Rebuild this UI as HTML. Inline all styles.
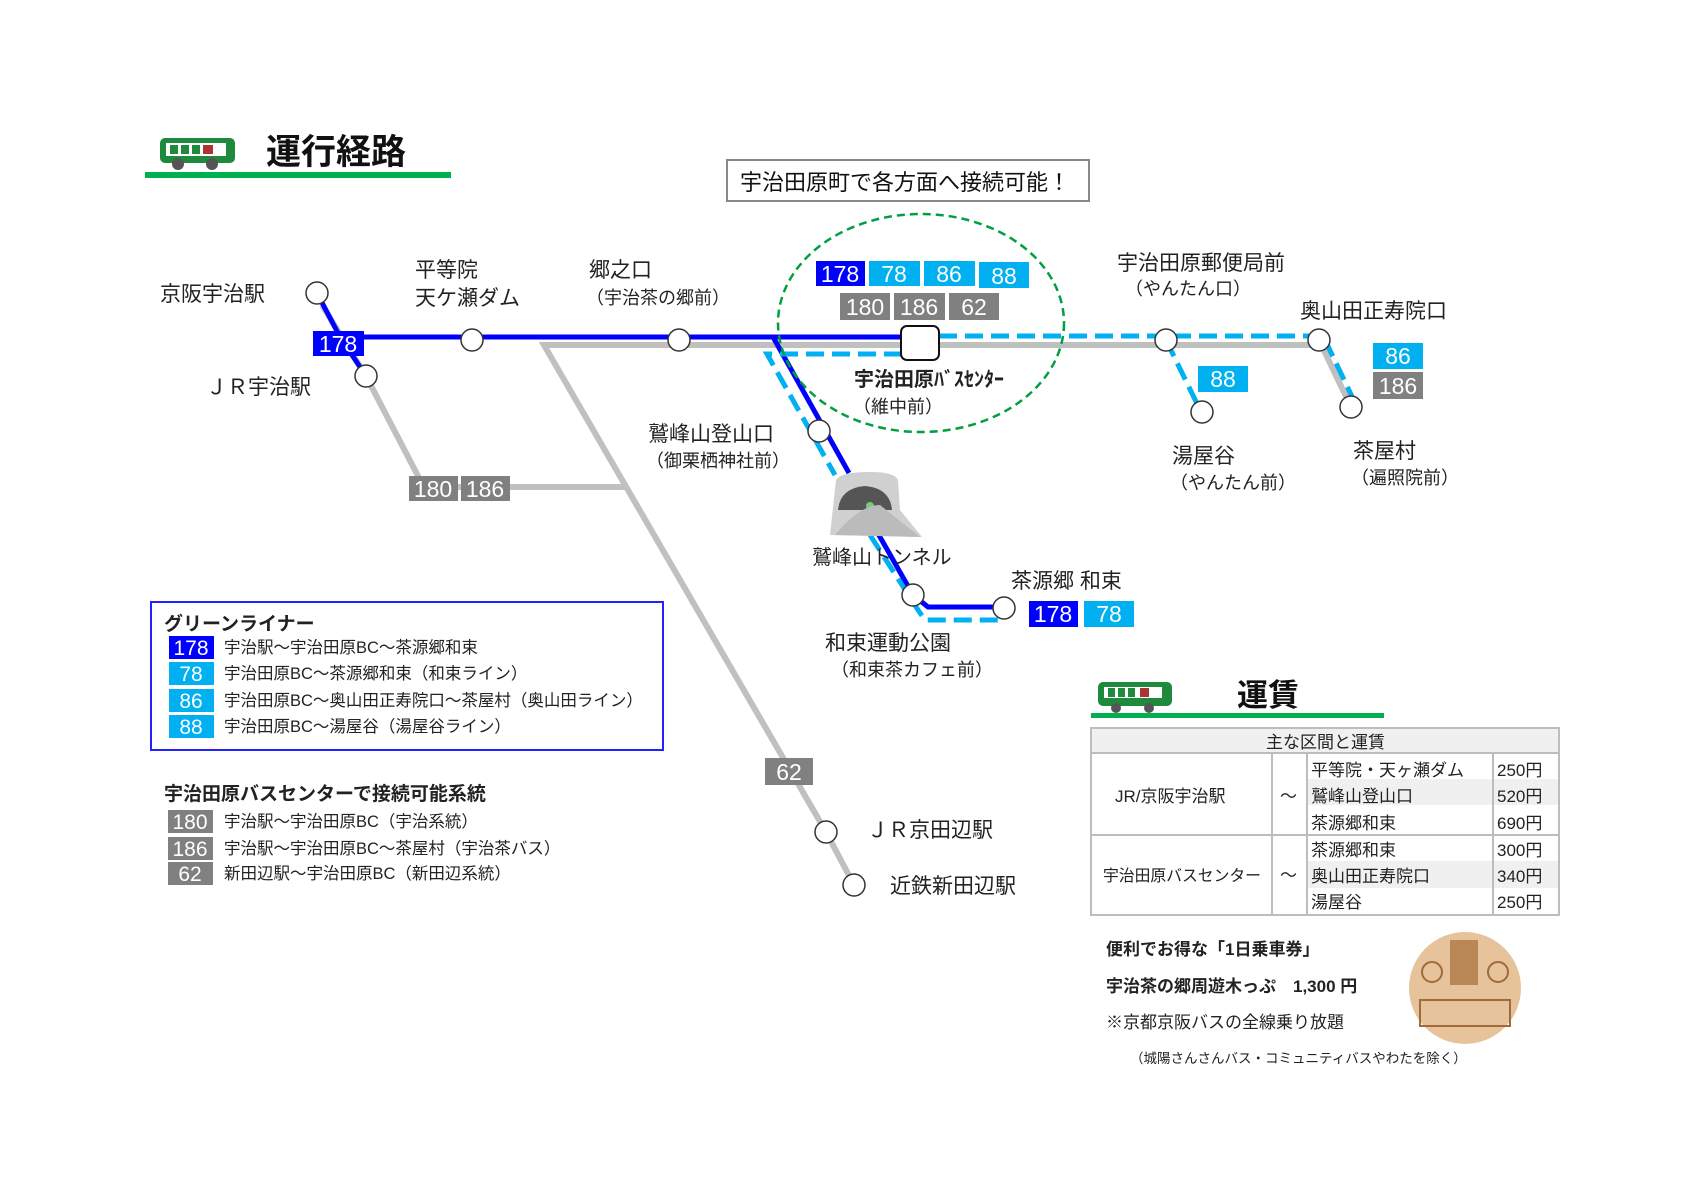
<!DOCTYPE html>
<html><head><meta charset="utf-8"><style>
html,body{margin:0;padding:0;background:#fff;}
svg{display:block;font-family:"Liberation Sans","Noto Sans CJK JP",sans-serif;}
</style></head><body>
<svg width="1683" height="1190" viewBox="0 0 1683 1190" xmlns="http://www.w3.org/2000/svg">
<g>
<rect x="160" y="138" width="75" height="25" rx="5" fill="#1f8a3c"/>
<rect x="166" y="143" width="60" height="13" fill="#fff"/>
<rect x="170" y="145" width="8" height="9" fill="#1f8a3c"/><rect x="181" y="145" width="8" height="9" fill="#1f8a3c"/><rect x="192" y="145" width="8" height="9" fill="#1f8a3c"/><rect x="203" y="145" width="10" height="9" fill="#a33"/>
<circle cx="178" cy="164" r="6" fill="#555"/><circle cx="212" cy="164" r="6" fill="#555"/>
<rect x="145" y="172" width="306" height="6" fill="#00b050"/>
<text x="266" y="164" font-size="35" font-weight="bold" fill="#111">運行経路</text>
</g>
<rect x="727" y="160" width="362" height="41" fill="#fff" stroke="#888" stroke-width="2"/>
<text x="740" y="190" font-size="22" fill="#111">宇治田原町で各方面へ接続可能！</text>

<g stroke="#c0c0c0" stroke-width="6" fill="none">
<polyline points="322,305 366,376 418,476 418,487"/>
<line x1="410" y1="487" x2="626" y2="487"/>
<polyline points="1320,345 544,345 826,832 854,885"/>
<line x1="1319" y1="340" x2="1351" y2="407"/>
</g>
<g stroke="#0000ff" stroke-width="5" fill="none">
<polyline points="317,293 340,337 366,376"/>
<line x1="340" y1="337" x2="902" y2="337"/>
<polyline points="773,337 849,473"/>
<polyline points="876,530 913,595 928,607 1004,607"/>
</g>
<g stroke="#00b0f0" stroke-width="5" fill="none" stroke-dasharray="18,8">
<polyline points="902,354 767,354 835,475"/>
<polyline points="870,535 918,610 925,620 1004,620"/>
<line x1="939" y1="336" x2="1319" y2="336"/>
<line x1="1166" y1="340" x2="1205" y2="420"/>
<line x1="1325" y1="340" x2="1357" y2="407"/>
</g>
<ellipse cx="921" cy="323" rx="143" ry="109" fill="none" stroke="#00a040" stroke-width="2.5" stroke-dasharray="8,5"/>

<g>
<path d="M830,535 L836,480 Q840,472 870,472 Q895,472 898,480 L900,510 L922,537 Z" fill="#d0d0d0"/>
<path d="M838,510 Q840,488 865,486 Q890,488 892,510 Z" fill="#555"/>
<circle cx="870" cy="506" r="4" fill="#7c7"/>
<path d="M835,535 Q860,505 880,505 L920,537 Z" fill="#bbb"/>
</g>
<text x="812" y="564" font-size="20" fill="#222">鷲峰山トンネル</text>

<g fill="#fff" stroke="#333" stroke-width="1.5">
<circle cx="317" cy="293" r="11"/><circle cx="366" cy="376" r="11"/>
<circle cx="472" cy="340" r="11"/><circle cx="679" cy="340" r="11"/>
<circle cx="819" cy="431" r="11"/><circle cx="913" cy="595" r="11"/><circle cx="1004" cy="608" r="11"/>
<circle cx="1166" cy="340" r="11"/><circle cx="1319" cy="340" r="11"/>
<circle cx="1202" cy="412" r="11"/><circle cx="1351" cy="407" r="11"/>
<circle cx="826" cy="832" r="11"/><circle cx="854" cy="885" r="11"/>
</g>
<rect x="901" y="326" width="38" height="34" rx="6" fill="#fff" stroke="#111" stroke-width="2"/>

<g font-size="23" fill="#fff" text-anchor="middle">
<rect x="313" y="331" width="51" height="25" fill="#0000ff"/><text x="338" y="352">178</text>
<rect x="409" y="476" width="49" height="25" fill="#808080"/><text x="433" y="497">180</text>
<rect x="461" y="476" width="49" height="25" fill="#808080"/><text x="485" y="497">186</text>
<rect x="816" y="261" width="49" height="25" fill="#0000ff"/><text x="840" y="282">178</text>
<rect x="869" y="261" width="51" height="25" fill="#00b0f0"/><text x="894" y="282">78</text>
<rect x="924" y="261" width="51" height="25" fill="#00b0f0"/><text x="949" y="282">86</text>
<rect x="979" y="262" width="50" height="26" fill="#00b0f0"/><text x="1004" y="284">88</text>
<rect x="840" y="293" width="50" height="27" fill="#808080"/><text x="865" y="315">180</text>
<rect x="894" y="293" width="51" height="27" fill="#808080"/><text x="919" y="315">186</text>
<rect x="949" y="293" width="50" height="27" fill="#808080"/><text x="974" y="315">62</text>
<rect x="1198" y="366" width="50" height="26" fill="#00b0f0"/><text x="1223" y="387">88</text>
<rect x="1373" y="343" width="50" height="26" fill="#00b0f0"/><text x="1398" y="364">86</text>
<rect x="1373" y="372" width="50" height="27" fill="#808080"/><text x="1398" y="394">186</text>
<rect x="1029" y="601" width="49" height="26" fill="#0000ff"/><text x="1053" y="622">178</text>
<rect x="1084" y="601" width="50" height="26" fill="#00b0f0"/><text x="1109" y="622">78</text>
<rect x="765" y="758" width="48" height="27" fill="#808080"/><text x="789" y="780">62</text>
</g>

<g font-size="21" fill="#222">
<text x="160" y="301">京阪宇治駅</text>
<text x="206" y="394">ＪＲ宇治駅</text>
<text x="415" y="277">平等院</text>
<text x="415" y="305">天ケ瀬ダム</text>
<text x="589" y="277">郷之口</text>
<text x="586" y="304" font-size="18">（宇治茶の郷前）</text>
<text x="648" y="441">鷲峰山登山口</text>
<text x="646" y="467" font-size="18">（御栗栖神社前）</text>
<text x="854" y="386" font-weight="bold" font-size="20">宇治田原ﾊﾞｽｾﾝﾀｰ</text>
<text x="853" y="413" font-size="18">（維中前）</text>
<text x="1117" y="270">宇治田原郵便局前</text>
<text x="1125" y="295" font-size="18">（やんたん口）</text>
<text x="1300" y="318">奥山田正寿院口</text>
<text x="1172" y="463">湯屋谷</text>
<text x="1170" y="489" font-size="18">（やんたん前）</text>
<text x="1353" y="458">茶屋村</text>
<text x="1351" y="484" font-size="18">（遍照院前）</text>
<text x="1011" y="588">茶源郷  和束</text>
<text x="825" y="650">和束運動公園</text>
<text x="831" y="676" font-size="18">（和束茶カフェ前）</text>
<text x="867" y="837">ＪＲ京田辺駅</text>
<text x="890" y="893">近鉄新田辺駅</text>
</g>

<rect x="151" y="602" width="512" height="148" fill="#fff" stroke="#2222ff" stroke-width="2"/>
<text x="164" y="630" font-size="19" font-weight="bold" fill="#222">グリーンライナー</text>
<g font-size="21" fill="#fff" text-anchor="middle">
<rect x="169" y="636" width="45" height="23" fill="#0000ff"/><text x="191" y="655">178</text>
<rect x="169" y="662" width="45" height="23" fill="#00b0f0"/><text x="191" y="681">78</text>
<rect x="169" y="689" width="45" height="23" fill="#00b0f0"/><text x="191" y="708">86</text>
<rect x="169" y="715" width="45" height="23" fill="#00b0f0"/><text x="191" y="734">88</text>
<rect x="168" y="810" width="45" height="23" fill="#808080"/><text x="190" y="829">180</text>
<rect x="168" y="837" width="45" height="23" fill="#808080"/><text x="190" y="856">186</text>
<rect x="168" y="862" width="45" height="23" fill="#808080"/><text x="190" y="881">62</text>
</g>
<g font-size="16.5" fill="#222">
<text x="224" y="653">宇治駅～宇治田原BC～茶源郷和束</text>
<text x="224" y="679">宇治田原BC～茶源郷和束（和束ライン）</text>
<text x="224" y="706">宇治田原BC～奥山田正寿院口～茶屋村（奥山田ライン）</text>
<text x="224" y="732">宇治田原BC～湯屋谷（湯屋谷ライン）</text>
<text x="224" y="827">宇治駅～宇治田原BC（宇治系統）</text>
<text x="224" y="854">宇治駅～宇治田原BC～茶屋村（宇治茶バス）</text>
<text x="224" y="879">新田辺駅～宇治田原BC（新田辺系統）</text>
</g>
<text x="164" y="800" font-size="19" font-weight="bold" fill="#222">宇治田原バスセンターで接続可能系統</text>

<g>
<rect x="1098" y="682" width="74" height="24" rx="5" fill="#1f8a3c"/>
<rect x="1104" y="687" width="58" height="11" fill="#fff"/>
<rect x="1108" y="688" width="7" height="9" fill="#1f8a3c"/><rect x="1118" y="688" width="7" height="9" fill="#1f8a3c"/><rect x="1128" y="688" width="7" height="9" fill="#1f8a3c"/><rect x="1140" y="688" width="9" height="9" fill="#a33"/>
<circle cx="1116" cy="708" r="5" fill="#555"/><circle cx="1149" cy="708" r="5" fill="#555"/>
<rect x="1091" y="713" width="293" height="5" fill="#00b050"/>
<text x="1237" y="706" font-size="31" font-weight="bold" fill="#111">運賃</text>
</g>
<g>
<rect x="1091" y="728" width="468" height="25" fill="#f0f0f0"/>
<rect x="1307" y="779" width="252" height="26" fill="#f0f0f0"/>
<rect x="1307" y="861" width="252" height="27" fill="#f0f0f0"/>
<g stroke="#bdbdbd" stroke-width="2" fill="none">
<rect x="1091" y="728" width="468" height="187"/>
<line x1="1091" y1="753" x2="1559" y2="753"/>
<line x1="1091" y1="835" x2="1559" y2="835"/>
<line x1="1272" y1="753" x2="1272" y2="915"/>
<line x1="1307" y1="753" x2="1307" y2="915"/>
<line x1="1493" y1="753" x2="1493" y2="915"/>
</g>
<g font-size="17" fill="#222">
<text x="1266" y="748">主な区間と運賃</text>
<text x="1115" y="802">JR/京阪宇治駅</text>
<text x="1103" y="881" font-size="16" textLength="158" lengthAdjust="spacingAndGlyphs">宇治田原バスセンター</text>
<text x="1280" y="802">～</text>
<text x="1280" y="881">～</text>
<text x="1311" y="776">平等院・天ヶ瀬ダム</text>
<text x="1311" y="802">鷲峰山登山口</text>
<text x="1311" y="829">茶源郷和束</text>
<text x="1311" y="856">茶源郷和束</text>
<text x="1311" y="882">奥山田正寿院口</text>
<text x="1311" y="908">湯屋谷</text>
<text x="1497" y="776">250円</text>
<text x="1497" y="802">520円</text>
<text x="1497" y="829">690円</text>
<text x="1497" y="856">300円</text>
<text x="1497" y="882">340円</text>
<text x="1497" y="908">250円</text>
</g>
</g>
<g fill="#222">
<text x="1106" y="955" font-size="17" font-weight="bold">便利でお得な「1日乗車券」</text>
<text x="1106" y="992" font-size="17" font-weight="bold">宇治茶の郷周遊木っぷ　1,300 円</text>
<text x="1106" y="1028" font-size="17">※京都京阪バスの全線乗り放題</text>
<text x="1130" y="1063" font-size="13.5">（城陽さんさんバス・コミュニティバスやわたを除く）</text>
</g>
<circle cx="1465" cy="988" r="56" fill="#e6c39a"/>
<rect x="1450" y="940" width="28" height="45" fill="#b98655"/>
<rect x="1420" y="1000" width="90" height="26" fill="none" stroke="#a06a3a" stroke-width="2"/>
<circle cx="1432" cy="972" r="10" fill="none" stroke="#a06a3a" stroke-width="2"/>
<circle cx="1498" cy="972" r="10" fill="none" stroke="#a06a3a" stroke-width="2"/>
</svg>
</body></html>
